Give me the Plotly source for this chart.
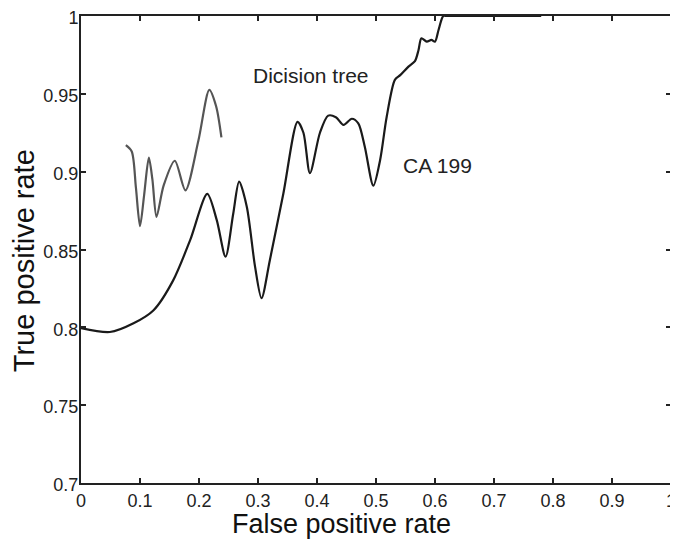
import plotly.graph_objects as go

# Decision tree ROC curve
dt_fpr = [0.076, 0.086, 0.093, 0.100, 0.107, 0.115, 0.121, 0.128, 0.140, 0.159, 0.177, 0.199, 0.2175, 0.229, 0.238]
dt_tpr = [0.917, 0.913, 0.890, 0.865, 0.885, 0.909, 0.895, 0.871, 0.891, 0.907, 0.888, 0.920, 0.9525, 0.942, 0.922]

# CA 199 ROC curve
ca_fpr = [0.0, 0.049, 0.089, 0.123, 0.156, 0.185, 0.214, 0.230, 0.245, 0.258, 0.268, 0.281, 0.295, 0.306,
          0.320, 0.343, 0.367, 0.377, 0.388, 0.405, 0.419, 0.432, 0.445, 0.459, 0.470, 0.481, 0.4955, 0.507,
          0.518, 0.532, 0.541, 0.555, 0.566, 0.572, 0.577, 0.586, 0.594, 0.600, 0.606, 0.614, 0.62, 0.78]
ca_tpr = [0.7995, 0.797, 0.8026, 0.811, 0.830, 0.856, 0.8857, 0.869, 0.8454, 0.873, 0.8936, 0.8775, 0.839, 0.8187,
          0.843, 0.886, 0.932, 0.925, 0.899, 0.925, 0.936, 0.935, 0.930, 0.934, 0.931, 0.916, 0.891, 0.9075,
          0.935, 0.959, 0.962, 0.9675, 0.971, 0.978, 0.9857, 0.9835, 0.9846, 0.9835, 0.991, 1.0, 1.0, 1.0]

x_ticks = [0, 0.1, 0.2, 0.3, 0.4, 0.5, 0.6, 0.7, 0.8, 0.9, 1]
y_ticks = [0.7, 0.75, 0.8, 0.85, 0.9, 0.95, 1]

FONT = "Liberation Sans, Arial, sans-serif"

fig = go.Figure()
fig.add_trace(go.Scatter(x=dt_fpr, y=dt_tpr, mode="lines",
                         line=dict(color="#555555", width=2.2, shape="spline", smoothing=0.8),
                         showlegend=False))
fig.add_trace(go.Scatter(x=ca_fpr, y=ca_tpr, mode="lines",
                         line=dict(color="#1a1a1a", width=2.2, shape="spline", smoothing=0.8),
                         showlegend=False))

axis_common = dict(showgrid=False, zeroline=False, showline=True, linecolor="#222", linewidth=2,
                   mirror="ticks", ticks="inside", ticklen=5, tickwidth=1.5, tickcolor="#222",
                   automargin=False, ticklabeloverflow="allow",
                   tickfont=dict(family=FONT, size=18, color="#222"))

fig.update_xaxes(range=[0, 1], tickvals=x_ticks, ticktext=[f"{v:g}" for v in x_ticks], **axis_common)
fig.update_yaxes(range=[0.7, 1], tickvals=y_ticks, ticktext=[f"{v:g}" for v in y_ticks],
                 ticklabelstandoff=-3, ticklabelshift=2, **axis_common)

fig.add_annotation(x=0.39, y=0.9618, xref="x", yref="y", text="Dicision tree", showarrow=False,
                   font=dict(family=FONT, size=21, color="#222"))
fig.add_annotation(x=0.605, y=0.9037, xref="x", yref="y", text="CA 199", showarrow=False,
                   font=dict(family=FONT, size=21, color="#222"))

fig.add_annotation(x=0.4415, y=0, xref="paper", yref="paper", yanchor="top", yshift=-24,
                   text="False positive rate", showarrow=False,
                   font=dict(family=FONT, size=27, color="#111"))
fig.add_annotation(x=0, y=0.475, xref="paper", yref="paper", xanchor="center", xshift=-57,
                   textangle=-90, text="True positive rate", showarrow=False,
                   font=dict(family=FONT, size=29, color="#111"))

# page body has an 8px margin, so the figure is offset by (8, 8) in the window
fig.update_layout(width=670, height=531, margin=dict(l=73, r=7, t=8, b=56),
                  paper_bgcolor="white", plot_bgcolor="white")

fig.write_html("out.html")
